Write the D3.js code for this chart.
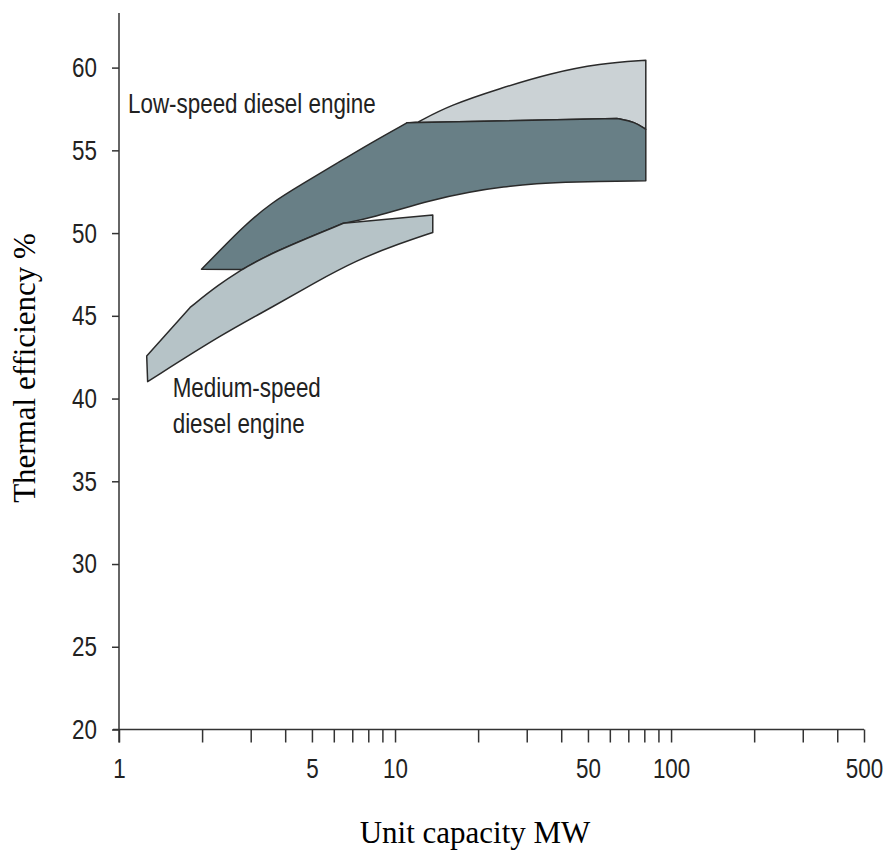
<html><head>
<title>Thermal efficiency of diesel engines</title>
<script src="https://d3js.org/d3.v7.min.js"></script>
<style>
  body { margin: 0; background: #fff; }
  .tick text { font-family: "Liberation Sans", Arial, sans-serif; font-size: 28px; fill: #222; }
  .lbl { font-family: "Liberation Sans", Arial, sans-serif; font-size: 28px; fill: #222; }
  .ttl { font-family: "Liberation Serif", "Times New Roman", serif; font-size: 31px; fill: #000; }
</style>
</head>
<body>
<div id="container"></div>
<script>

// data: [unit capacity MW, thermal efficiency %]
// low-speed band, light upper extension
const lowLightUpper = [[12.15,56.72],[15.82,57.73],[24.0,58.74],[36.4,59.65],[55.3,60.25],[81,60.45]];
// low-speed band, dark part
const lowDarkUpperLeft = [[1.99,47.81],[2.39,49.17],[2.82,50.38],[3.53,51.79],[4.65,53.0],[6.15,54.21],[8.12,55.42],[11.03,56.66]];
const lowDarkCorner = [[63.6,56.93],[74.1,56.71],[81,56.27]];
const lowDarkLower = [[81,53.16],[43.1,53.1],[32.6,53.0],[24.7,52.8],[18.7,52.5],[13.77,52.04],[8.12,50.89],[6.5,50.59]];
// edge shared by the dark band and the medium-speed band
const sharedEdge = [[2.8,47.8],[3.58,48.82],[6.5,50.59]];
// medium-speed band
const medUpperLeft = [[1.26,42.57],[1.81,45.51]];
const medUpperMid = [[1.81,45.51],[2.3,46.9],[2.8,47.8]];
const medUpperRight = [[6.5,50.59],[13.7,51.09],[13.7,50.04]];
const medLower = [[13.7,50.04],[10.43,49.38],[7.27,48.37],[5.06,46.96],[3.62,45.55],[2.39,43.94],[1.27,41.02]];

const xTicks = [1,2,3,4,5,6,7,8,9,10,20,30,40,50,60,70,80,90,100,200,300,400,500];
const xLabels = [1,5,10,50,100,500];
const yTicks = [20,25,30,35,40,45,50,55,60];

const labels = [
  {lines: ["Low-speed diesel engine"], x: 1.078, y: 57.25},
  {lines: ["Medium-speed", "diesel engine"], x: 1.565, y: 40.11}
];

const width = 886, height = 855;
const narrow = 0.8;   // the reference uses a condensed sans
const svg = d3.select("#container").append("svg")
              .attr("width", width).attr("height", height);

const xScale = d3.scaleLog().domain([1, 500]).range([119, 864]);
const yScale = d3.scaleLinear().domain([20, 63.3]).range([729.5, 13]);

const rev = a => a.slice().reverse();
const lineLin = d3.line().x(d => xScale(d[0])).y(d => yScale(d[1]));
const lineCurve = d3.line().x(d => xScale(d[0])).y(d => yScale(d[1])).curve(d3.curveBasis);

// join edges (curved or straight) into one closed outline
function outline(edges) {
  let d = "";
  edges.forEach((e, i) => {
    let s = (e.curved ? lineCurve : lineLin)(e.pts);
    if (i > 0) s = "L" + s.slice(1);
    d += s;
  });
  return d + "Z";
}

const shapes = [
  {fill: "#cbd2d5", edges: [
    {pts: lowLightUpper, curved: true},
    {pts: [lowLightUpper[lowLightUpper.length-1], lowDarkCorner[2]]},
    {pts: rev(lowDarkCorner), curved: true},
    {pts: [lowDarkCorner[0], lowDarkUpperLeft[lowDarkUpperLeft.length-1]]}
  ]},
  {fill: "#687f86", edges: [
    {pts: lowDarkUpperLeft, curved: true},
    {pts: [lowDarkUpperLeft[lowDarkUpperLeft.length-1], lowDarkCorner[0]]},
    {pts: lowDarkCorner, curved: true},
    {pts: [lowDarkCorner[2], lowDarkLower[0]]},
    {pts: lowDarkLower, curved: true},
    {pts: rev(sharedEdge), curved: true},
    {pts: [sharedEdge[0], lowDarkUpperLeft[0]]}
  ]},
  {fill: "#b6c3c7", edges: [
    {pts: medUpperLeft},
    {pts: medUpperMid, curved: true},
    {pts: sharedEdge, curved: true},
    {pts: medUpperRight},
    {pts: medLower, curved: true}
  ]}
];

svg.selectAll("path.band").data(shapes).join("path").attr("class", "band")
   .attr("d", d => outline(d.edges))
   .attr("fill", d => d.fill)
   .attr("stroke", "#2a2a2a")
   .attr("stroke-width", 1.5)
   .attr("stroke-linejoin", "round");

// axes
const xAxis = d3.axisBottom(xScale).tickValues(xTicks).tickSize(13).tickPadding(16)
                .tickFormat(d => xLabels.includes(d) ? d : "");
const xg = svg.append("g").attr("transform", "translate(0," + yScale(20) + ")").call(xAxis);
xg.select(".domain").remove();
xg.selectAll(".tick text").attr("transform", "scale(" + narrow + ",1)");

const yAxis = d3.axisLeft(yScale).tickValues(yTicks).tickSize(7).tickPadding(15);
const yg = svg.append("g").attr("transform", "translate(" + xScale(1) + ",0)").call(yAxis);
yg.select(".domain").remove();
yg.selectAll(".tick text").attr("x", -22 / narrow).attr("transform", "scale(" + narrow + ",1)");

svg.selectAll(".tick line").attr("stroke", "#333").attr("stroke-width", 1.5);

// axis lines
svg.append("line").attr("x1", xScale(1) - 6).attr("x2", xScale(500))
   .attr("y1", yScale(20)).attr("y2", yScale(20)).attr("stroke", "#333").attr("stroke-width", 1.5);
svg.append("line").attr("x1", xScale(1)).attr("x2", xScale(1))
   .attr("y1", yScale(63.3)).attr("y2", yScale(20) + 13).attr("stroke", "#333").attr("stroke-width", 1.5);

// annotations
labels.forEach(l => {
  const t = svg.append("text").attr("class", "lbl")
               .attr("transform", "translate(" + xScale(l.x) + "," + yScale(l.y) + ") scale(" + narrow + ",1)");
  l.lines.forEach((s, i) => {
    t.append("tspan").attr("x", 0).attr("dy", i == 0 ? 0 : 36).text(s);
  });
});

// titles
svg.append("text").attr("class", "ttl").attr("text-anchor", "middle")
   .attr("x", 475).attr("y", 843).text("Unit capacity MW");
svg.append("text").attr("class", "ttl").attr("text-anchor", "middle")
   .attr("transform", "translate(35,368) rotate(-90)").text("Thermal efficiency %");

</script>
</body>
</html>
